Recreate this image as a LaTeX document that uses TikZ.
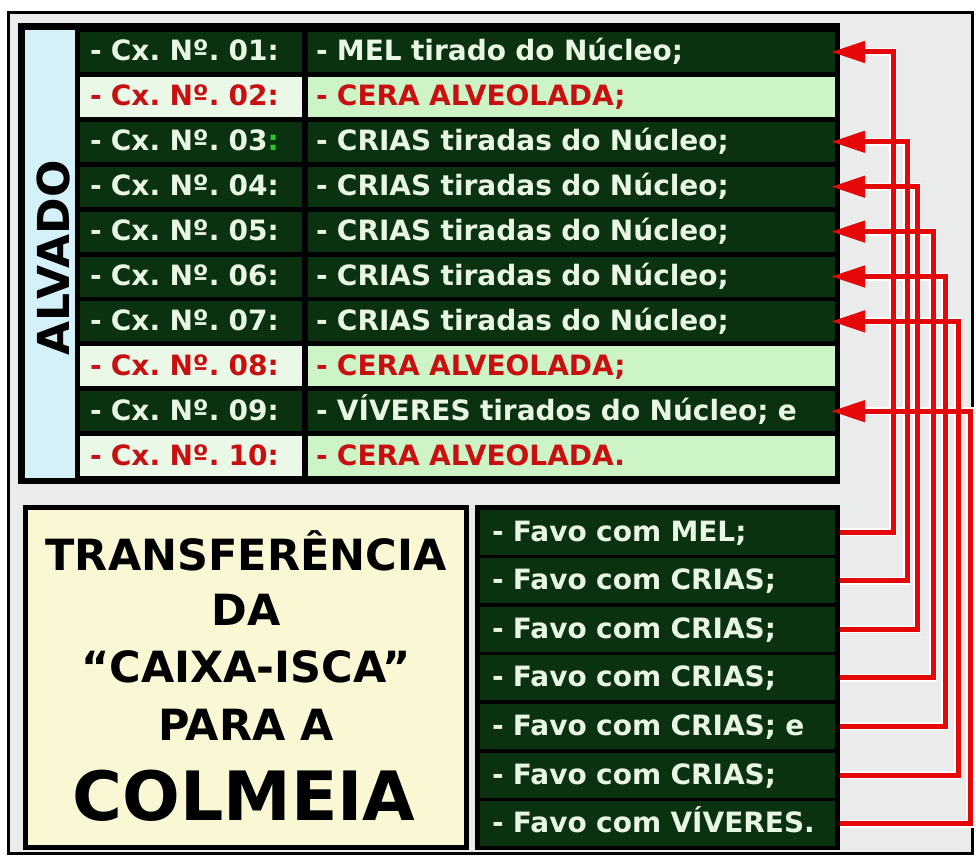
\documentclass[tikz,border=0pt]{standalone}
\usepackage{fontspec}
\setmainfont{DejaVu Sans}
\usetikzlibrary{calc}
\usetikzlibrary{arrows.meta}
\frenchspacing

\definecolor{verdeescuro}{RGB}{10,50,16}
\definecolor{verdeclaro}{RGB}{204,244,198}
\definecolor{verdepalido}{RGB}{234,248,232}
\definecolor{textoclaro}{RGB}{232,246,226}
\definecolor{vermelho}{RGB}{200,16,16}
\definecolor{verdevivo}{RGB}{40,200,40}
\definecolor{seta}{RGB}{228,8,8}
\definecolor{azulclaro}{RGB}{212,240,248}
\definecolor{amarelo}{RGB}{250,248,212}
\definecolor{fundo}{RGB}{234,235,235}

\begin{document}
\begin{tikzpicture}[x=1pt, y=-1pt,
  texto/.style={inner ysep=0pt, align=left, text height=19pt, text depth=1pt, font=\fontsize{28}{30}\selectfont\bfseries\frenchspacing},
  cx/.style={texto, minimum width=222pt, minimum height=40pt, text width=202pt, inner xsep=10pt},
  desc/.style={texto, minimum width=527pt, minimum height=40pt, text width=511pt, inner xsep=8pt},
  favo/.style={texto, minimum width=355pt, minimum height=45pt, text width=331pt, inner xsep=12pt, fill=verdeescuro, text=textoclaro},
  escuro/.style={fill=verdeescuro, text=textoclaro},
  claro/.style={fill=verdepalido, text=vermelho},
  claro2/.style={fill=verdeclaro, text=vermelho},
  titulo/.style={anchor=base, font=\fontsize{43}{46}\selectfont\bfseries},
  ligacao/.style={draw=seta, line width=5pt, -{Triangle[length=34pt,width=21pt]}, shorten <=5pt, shorten >=-4pt},
  contorno/.style={draw=white, line width=8pt, shorten <=5pt, shorten >=24pt}]

    \useasboundingbox (0,0) rectangle (976,856);
    \fill[white] (0,0) rectangle (976,856);
    \draw[line width=3pt, fill=fundo] (8,13) rectangle (972,853);

    \fill[black] (18,23) rectangle (840,484);
    \fill[azulclaro] (25,30) rectangle (75,478);
    \node[rotate=90, inner sep=0pt, font=\fontsize{44}{46}\selectfont\bfseries] (ALV) at (53,258) {ALVADO};

    \node[cx, escuro] (C1) at (191,52) {- Cx. Nº. 01:};
    \node[desc, escuro] (M1) at (571.5,52) {- MEL tirado do Núcleo;};
    \node[cx, claro] (C2) at (191,96.9) {- Cx. Nº. 02:};
    \node[desc, claro2] (M2) at (571.5,96.9) {- CERA ALVEOLADA;};
    \node[cx, escuro] (C3) at (191,141.8) {- Cx. Nº. 03\textcolor{verdevivo}{:}};
    \node[desc, escuro] (M3) at (571.5,141.8) {- CRIAS tiradas do Núcleo;};
    \node[cx, escuro] (C4) at (191,186.7) {- Cx. Nº. 04:};
    \node[desc, escuro] (M4) at (571.5,186.7) {- CRIAS tiradas do Núcleo;};
    \node[cx, escuro] (C5) at (191,231.6) {- Cx. Nº. 05:};
    \node[desc, escuro] (M5) at (571.5,231.6) {- CRIAS tiradas do Núcleo;};
    \node[cx, escuro] (C6) at (191,276.5) {- Cx. Nº. 06:};
    \node[desc, escuro] (M6) at (571.5,276.5) {- CRIAS tiradas do Núcleo;};
    \node[cx, escuro] (C7) at (191,321.4) {- Cx. Nº. 07:};
    \node[desc, escuro] (M7) at (571.5,321.4) {- CRIAS tiradas do Núcleo;};
    \node[cx, claro] (C8) at (191,366.3) {- Cx. Nº. 08:};
    \node[desc, claro2] (M8) at (571.5,366.3) {- CERA ALVEOLADA;};
    \node[cx, escuro] (C9) at (191,411.2) {- Cx. Nº. 09:};
    \node[desc, escuro] (M9) at (571.5,411.2) {- VÍVERES tirados do Núcleo; e};
    \node[cx, claro] (C10) at (191,456.1) {- Cx. Nº. 10:};
    \node[desc, claro2] (M10) at (571.5,456.1) {- CERA ALVEOLADA.};

    \draw[line width=5pt, fill=amarelo] (25,507) rectangle (466,847);
    \node[titulo] (T1) at (246,570) {TRANSFERÊNCIA};
    \node[titulo] (T2) at (246,625) {DA};
    \node[titulo] (T3) at (246,682) {“CAIXA-ISCA”};
    \node[titulo] (T4) at (246,740) {PARA A};
    \node[titulo, font=\fontsize{68}{70}\selectfont\bfseries] (T5) at (244,820) {COLMEIA};

    \fill[black] (475,505) rectangle (840,850);
    \node[favo] (F1) at (657.5,532) {- Favo com MEL;};
    \node[favo] (F2) at (657.5,580.6) {- Favo com CRIAS;};
    \node[favo] (F3) at (657.5,629.2) {- Favo com CRIAS;};
    \node[favo] (F4) at (657.5,677.8) {- Favo com CRIAS;};
    \node[favo] (F5) at (657.5,726.4) {- Favo com CRIAS; e};
    \node[favo] (F6) at (657.5,775) {- Favo com CRIAS;};
    \node[favo] (F7) at (657.5,823.6) {- Favo com VÍVERES.};

    \draw[contorno] (F7.east) -- ++(135,0) |- (M9.east);
    \draw[contorno] (F6.east) -- ++(123,0) |- (M7.east);
    \draw[contorno] (F5.east) -- ++(110,0) |- (M6.east);
    \draw[contorno] (F4.east) -- ++(98,0) |- (M5.east);
    \draw[contorno] (F3.east) -- ++(82,0) |- (M4.east);
    \draw[contorno] (F2.east) -- ++(72,0) |- (M3.east);
    \draw[contorno] (F1.east) -- ++(58,0) |- (M1.east);

    \draw[ligacao] (F7.east) -- ++(135,0) |- (M9.east);
    \draw[ligacao] (F6.east) -- ++(123,0) |- (M7.east);
    \draw[ligacao] (F5.east) -- ++(110,0) |- (M6.east);
    \draw[ligacao] (F4.east) -- ++(98,0) |- (M5.east);
    \draw[ligacao] (F3.east) -- ++(82,0) |- (M4.east);
    \draw[ligacao] (F2.east) -- ++(72,0) |- (M3.east);
    \draw[ligacao] (F1.east) -- ++(58,0) |- (M1.east);

\end{tikzpicture}
\end{document}
